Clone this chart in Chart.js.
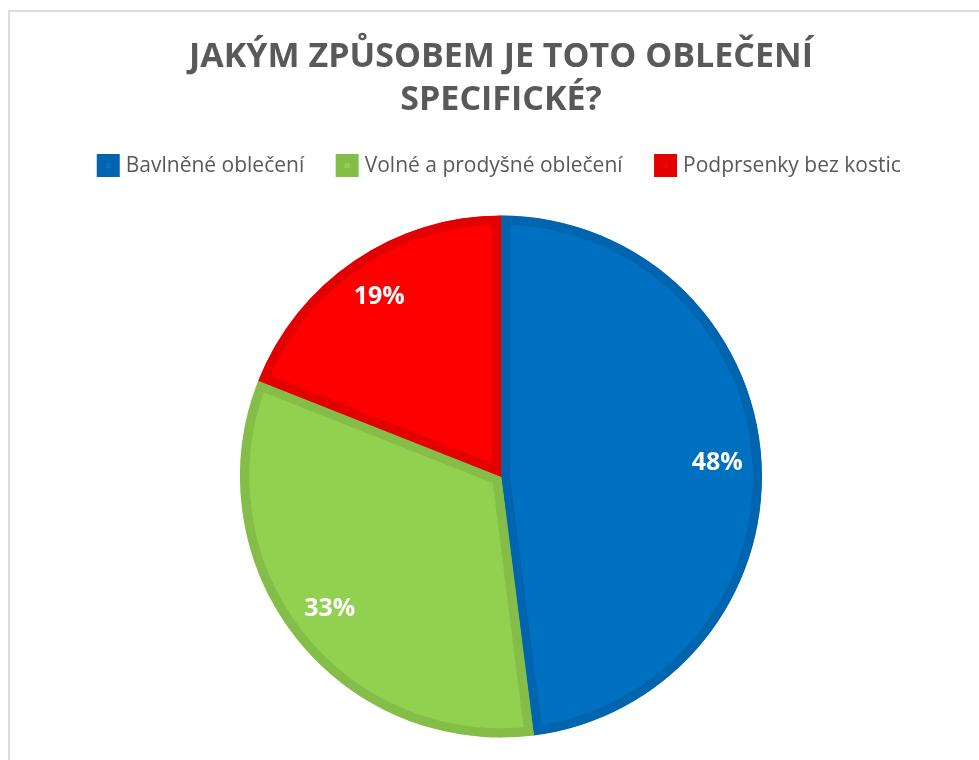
<!DOCTYPE html>
<html lang="cs">
<head>
    <meta charset="UTF-8">
    <title>Jakým způsobem je toto oblečení specifické?</title>
    <script src="https://cdn.jsdelivr.net/npm/chart.js"></script>
    <style>
        html, body { margin: 0; padding: 0; background: #fff; overflow: hidden; }
        body { width: 979px; height: 760px; position: relative; }
        .frame {
            position: absolute; left: 8px; top: 10px;
            width: 982px; height: 780px;
            border: 2px solid #dcdcdc;
        }
    </style>
</head>
<body>
    <div class="frame"><canvas id="pie"></canvas></div>

    <script>
        const titleLines = ['JAKÝM ZPŮSOBEM JE TOTO OBLEČENÍ', 'SPECIFICKÉ?'];
        const labels = ['Bavlněné oblečení', 'Volné a prodyšné oblečení', 'Podprsenky bez kostic'];
        const values = [48, 33, 19];
        const fillColors = ['#0070C0', '#92D050', '#FF0000'];
        const edgeColors = ['#0064AE', '#84BE48', '#E20000'];

        // procenta uvnitř výsečí
        const pctLabels = {
            id: 'pctLabels',
            afterDatasetsDraw(chart) {
                const ctx = chart.ctx;
                const total = values.reduce((a, b) => a + b, 0);
                ctx.save();
                ctx.font = 'bold 25px "Open Sans", sans-serif';
                ctx.fillStyle = '#ffffff';
                ctx.textAlign = 'center';
                ctx.textBaseline = 'middle';
                chart.getDatasetMeta(0).data.forEach((arc, i) => {
                    const mid = (arc.startAngle + arc.endAngle) / 2;
                    const r = arc.outerRadius * 0.83;
                    const x = arc.x + Math.cos(mid) * r;
                    const y = arc.y + Math.sin(mid) * r;
                    ctx.fillText(Math.round(values[i] / total * 100) + '%', x, y);
                });
                ctx.restore();
            }
        };

        new Chart(document.getElementById('pie'), {
            type: 'pie',
            data: {
                labels: labels,
                datasets: [{
                    data: values,
                    backgroundColor: fillColors,
                    borderColor: edgeColors,
                    borderWidth: 9,
                    borderAlign: 'inner'
                }]
            },
            options: {
                responsive: true,
                maintainAspectRatio: false,
                animation: false,
                radius: 261,
                layout: { padding: { bottom: 25 } },
                plugins: {
                    title: {
                        display: true,
                        text: titleLines,
                        color: '#595959',
                        font: { family: '"Open Sans", sans-serif', size: 34, weight: 'bold', lineHeight: 1.265 },
                        padding: { top: 24, bottom: -3 }
                    },
                    legend: {
                        position: 'top',
                        labels: {
                            color: '#595959',
                            font: { family: '"Open Sans", sans-serif', size: 21 },
                            boxWidth: 14,
                            boxHeight: 14,
                            padding: 36
                        }
                    },
                    tooltip: { enabled: false }
                }
            },
            plugins: [pctLabels]
        });
    </script>
</body>
</html>
